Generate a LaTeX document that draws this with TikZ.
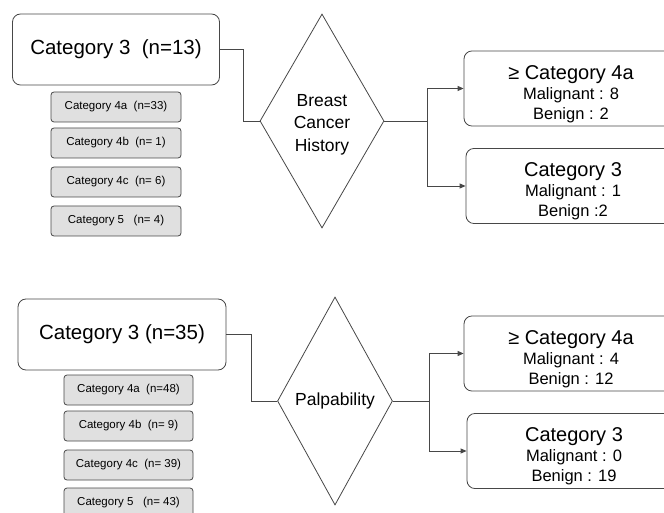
\documentclass[tikz,border=0pt]{standalone}
\usepackage{fontspec}
\setmainfont{Liberation Sans}
\usetikzlibrary{shapes.geometric,arrows.meta}
\definecolor{edgegray}{HTML}{474747}
\definecolor{boxgray}{HTML}{E0E0E0}
\newcommand{\fs}[2]{\fontsize{#1}{#2}\selectfont}
\newcommand{\head}[1]{\raisebox{0pt}[25pt]{\fs{20}{20}#1}}

\begin{document}
\begin{tikzpicture}[x=1pt,y=-1pt,
  bigbox/.style={draw=edgegray,rounded corners=8pt,minimum width=207pt,minimum height=71pt,font=\fs{20.5}{24}},
  subbox/.style={draw=edgegray,fill=boxgray,rounded corners=3pt,minimum width=130pt,minimum height=30pt,font=\fs{11.5}{13}},
  decision/.style={draw=edgegray,diamond,inner sep=0pt,align=center,font=\fs{17.5}{22.5}},
  result/.style={draw=edgegray,rounded corners=8pt,minimum width=214pt,minimum height=71pt,align=center,font=\fs{16.5}{20}},
  line width=0.8pt]

\clip (0,0) rectangle (664,513);

% breast cancer history
\node[bigbox] (cat1) at (116,49.5) {Category 3\ \ (n=13)};
\node[subbox] (cat1a) at (116,107) {Category 4a\ \ (n=33)};
\node[subbox] (cat1b) at (116,143) {Category 4b\ \ (n= 1)};
\node[subbox] (cat1c) at (116,182) {Category 4c\ \ (n= 6)};
\node[subbox] (cat1d) at (116,221) {Category 5\ \ \ (n= 4)};
\node[decision,minimum width=116pt,minimum height=214pt] (hist) at (322,121) {\raisebox{0pt}[19pt]{Breast}\\Cancer\\History};
\node[result] (res1a) at (571,88.5) {\head{≥ Category 4a}\\Malignant : 8\\Benign : 2};
\node[result] (res1b) at (573,186) {\head{Category 3}\\Malignant : 1\\Benign :2};

\draw[edgegray] (cat1.east) -- ++(23,0) |- (hist.west);
\draw[edgegray] (hist.east) -- ++(43,0) coordinate (split1);
\draw[edgegray,-{Triangle[length=6pt,width=5pt]}] (split1) |- (res1a.west);
\draw[edgegray,-{Triangle[length=6pt,width=5pt]}] (split1) |- (res1b.west);

% palpability
\node[bigbox,minimum width=208pt] (cat2) at (122,334.5) {Category 3 (n=35)};
\node[subbox,minimum width=129pt] (cat2a) at (128.5,390) {Category 4a\ \ (n=48)};
\node[subbox,minimum width=129pt] (cat2b) at (128.5,426) {Category 4b\ \ (n= 9)};
\node[subbox,minimum width=129pt] (cat2c) at (128.5,465) {Category 4c\ \ (n= 39)};
\node[subbox,minimum width=129pt] (cat2d) at (128.5,503) {Category 5\ \ \ (n= 43)};
\node[decision,minimum width=115pt,minimum height=208pt] (palp) at (335,401) {Palpability};
\node[result] (res2a) at (571,353.5) {\head{≥ Category 4a}\\Malignant : 4\\Benign : 12};
\node[result] (res2b) at (574,451) {\head{Category 3}\\Malignant : 0\\Benign : 19};

\draw[edgegray] (cat2.east) -- ++(25,0) |- (palp.west);
\draw[edgegray] (palp.east) -- ++(36,0) coordinate (split2);
\draw[edgegray,-{Triangle[length=6pt,width=5pt]}] (split2) |- (res2a.west);
\draw[edgegray,-{Triangle[length=6pt,width=5pt]}] (split2) |- (res2b.west);

\end{tikzpicture}
\end{document}
